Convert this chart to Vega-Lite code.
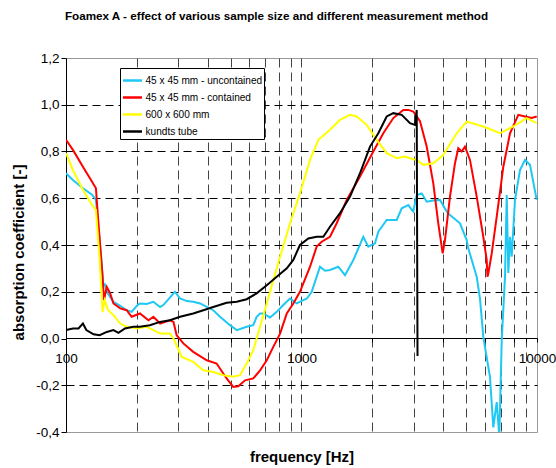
{
  "$schema": "https://vega.github.io/schema/vega-lite/v6.json",
  "width": 471,
  "height": 374,
  "autosize": {"type": "none"},
  "padding": {"left": 66, "top": 58, "right": 19, "bottom": 36},
  "background": "white",
  "title": {"text": "Foamex A - effect of various sample size and different measurement method", "font": "Liberation Sans", "fontSize": 11.7, "fontWeight": "bold", "color": "black", "anchor": "middle", "dx": -25, "offset": 28},
  "config": {"view": {"stroke": "#999999", "strokeWidth": 1}, "font": "Liberation Sans"},
  "data": {"values": [
    {"s":"45 x 45 mm - uncontained","f":100,"a":0.707},{"s":"45 x 45 mm - uncontained","f":107,"a":0.678},{"s":"45 x 45 mm - uncontained","f":118,"a":0.643},{"s":"45 x 45 mm - uncontained","f":129,"a":0.615},{"s":"45 x 45 mm - uncontained","f":134,"a":0.593},{"s":"45 x 45 mm - uncontained","f":141,"a":0.35},{"s":"45 x 45 mm - uncontained","f":144,"a":0.225},{"s":"45 x 45 mm - uncontained","f":146,"a":0.232},{"s":"45 x 45 mm - uncontained","f":151,"a":0.19},{"s":"45 x 45 mm - uncontained","f":159,"a":0.157},{"s":"45 x 45 mm - uncontained","f":170,"a":0.14},{"s":"45 x 45 mm - uncontained","f":181,"a":0.121},{"s":"45 x 45 mm - uncontained","f":190,"a":0.114},{"s":"45 x 45 mm - uncontained","f":200,"a":0.14},{"s":"45 x 45 mm - uncontained","f":206,"a":0.15},{"s":"45 x 45 mm - uncontained","f":220,"a":0.148},{"s":"45 x 45 mm - uncontained","f":235,"a":0.157},{"s":"45 x 45 mm - uncontained","f":251,"a":0.135},{"s":"45 x 45 mm - uncontained","f":259,"a":0.143},{"s":"45 x 45 mm - uncontained","f":276,"a":0.175},{"s":"45 x 45 mm - uncontained","f":290,"a":0.2},{"s":"45 x 45 mm - uncontained","f":305,"a":0.171},{"s":"45 x 45 mm - uncontained","f":326,"a":0.16},{"s":"45 x 45 mm - uncontained","f":347,"a":0.157},{"s":"45 x 45 mm - uncontained","f":371,"a":0.15},{"s":"45 x 45 mm - uncontained","f":396,"a":0.135},{"s":"45 x 45 mm - uncontained","f":422,"a":0.121},{"s":"45 x 45 mm - uncontained","f":451,"a":0.093},{"s":"45 x 45 mm - uncontained","f":497,"a":0.057},{"s":"45 x 45 mm - uncontained","f":531,"a":0.036},{"s":"45 x 45 mm - uncontained","f":585,"a":0.05},{"s":"45 x 45 mm - uncontained","f":624,"a":0.057},{"s":"45 x 45 mm - uncontained","f":645,"a":0.093},{"s":"45 x 45 mm - uncontained","f":667,"a":0.107},{"s":"45 x 45 mm - uncontained","f":689,"a":0.107},{"s":"45 x 45 mm - uncontained","f":735,"a":0.09},{"s":"45 x 45 mm - uncontained","f":785,"a":0.114},{"s":"45 x 45 mm - uncontained","f":837,"a":0.143},{"s":"45 x 45 mm - uncontained","f":894,"a":0.171},{"s":"45 x 45 mm - uncontained","f":954,"a":0.15},{"s":"45 x 45 mm - uncontained","f":1018,"a":0.164},{"s":"45 x 45 mm - uncontained","f":1052,"a":0.17},{"s":"45 x 45 mm - uncontained","f":1105,"a":0.2},{"s":"45 x 45 mm - uncontained","f":1198,"a":0.307},{"s":"45 x 45 mm - uncontained","f":1259,"a":0.29},{"s":"45 x 45 mm - uncontained","f":1321,"a":0.293},{"s":"45 x 45 mm - uncontained","f":1433,"a":0.307},{"s":"45 x 45 mm - uncontained","f":1530,"a":0.271},{"s":"45 x 45 mm - uncontained","f":1660,"a":0.336},{"s":"45 x 45 mm - uncontained","f":1830,"a":0.435},{"s":"45 x 45 mm - uncontained","f":1922,"a":0.393},{"s":"45 x 45 mm - uncontained","f":2052,"a":0.407},{"s":"45 x 45 mm - uncontained","f":2119,"a":0.457},{"s":"45 x 45 mm - uncontained","f":2300,"a":0.507},{"s":"45 x 45 mm - uncontained","f":2537,"a":0.507},{"s":"45 x 45 mm - uncontained","f":2664,"a":0.557},{"s":"45 x 45 mm - uncontained","f":2841,"a":0.571},{"s":"45 x 45 mm - uncontained","f":2937,"a":0.55},{"s":"45 x 45 mm - uncontained","f":2983,"a":0.543},{"s":"45 x 45 mm - uncontained","f":3085,"a":0.614},{"s":"45 x 45 mm - uncontained","f":3239,"a":0.621},{"s":"45 x 45 mm - uncontained","f":3401,"a":0.585},{"s":"45 x 45 mm - uncontained","f":3628,"a":0.59},{"s":"45 x 45 mm - uncontained","f":3873,"a":0.593},{"s":"45 x 45 mm - uncontained","f":4135,"a":0.543},{"s":"45 x 45 mm - uncontained","f":4271,"a":0.528},{"s":"45 x 45 mm - uncontained","f":4710,"a":0.493},{"s":"45 x 45 mm - uncontained","f":5028,"a":0.421},{"s":"45 x 45 mm - uncontained","f":5093,"a":0.39},{"s":"45 x 45 mm - uncontained","f":5546,"a":0.264},{"s":"45 x 45 mm - uncontained","f":5728,"a":0.17},{"s":"45 x 45 mm - uncontained","f":5916,"a":0.007},{"s":"45 x 45 mm - uncontained","f":6316,"a":-0.165},{"s":"45 x 45 mm - uncontained","f":6523,"a":-0.38},{"s":"45 x 45 mm - uncontained","f":6745,"a":-0.272},{"s":"45 x 45 mm - uncontained","f":6918,"a":-0.42},{"s":"45 x 45 mm - uncontained","f":7083,"a":-0.007},{"s":"45 x 45 mm - uncontained","f":7314,"a":0.264},{"s":"45 x 45 mm - uncontained","f":7437,"a":0.614},{"s":"45 x 45 mm - uncontained","f":7554,"a":0.28},{"s":"45 x 45 mm - uncontained","f":7680,"a":0.435},{"s":"45 x 45 mm - uncontained","f":7808,"a":0.35},{"s":"45 x 45 mm - uncontained","f":8064,"a":0.593},{"s":"45 x 45 mm - uncontained","f":8469,"a":0.721},{"s":"45 x 45 mm - uncontained","f":8892,"a":0.764},{"s":"45 x 45 mm - uncontained","f":9339,"a":0.743},{"s":"45 x 45 mm - uncontained","f":9970,"a":0.593},
    {"s":"45 x 45 mm - contained","f":100,"a":0.85},{"s":"45 x 45 mm - contained","f":107,"a":0.807},{"s":"45 x 45 mm - contained","f":118,"a":0.735},{"s":"45 x 45 mm - contained","f":129,"a":0.671},{"s":"45 x 45 mm - contained","f":134,"a":0.643},{"s":"45 x 45 mm - contained","f":137,"a":0.507},{"s":"45 x 45 mm - contained","f":143,"a":0.264},{"s":"45 x 45 mm - contained","f":145,"a":0.164},{"s":"45 x 45 mm - contained","f":149,"a":0.221},{"s":"45 x 45 mm - contained","f":154,"a":0.193},{"s":"45 x 45 mm - contained","f":159,"a":0.15},{"s":"45 x 45 mm - contained","f":170,"a":0.129},{"s":"45 x 45 mm - contained","f":181,"a":0.121},{"s":"45 x 45 mm - contained","f":190,"a":0.093},{"s":"45 x 45 mm - contained","f":206,"a":0.107},{"s":"45 x 45 mm - contained","f":224,"a":0.078},{"s":"45 x 45 mm - contained","f":235,"a":0.093},{"s":"45 x 45 mm - contained","f":251,"a":0.064},{"s":"45 x 45 mm - contained","f":276,"a":0.078},{"s":"45 x 45 mm - contained","f":286,"a":0.071},{"s":"45 x 45 mm - contained","f":295,"a":0.014},{"s":"45 x 45 mm - contained","f":315,"a":-0.021},{"s":"45 x 45 mm - contained","f":347,"a":-0.057},{"s":"45 x 45 mm - contained","f":396,"a":-0.093},{"s":"45 x 45 mm - contained","f":436,"a":-0.107},{"s":"45 x 45 mm - contained","f":481,"a":-0.171},{"s":"45 x 45 mm - contained","f":513,"a":-0.207},{"s":"45 x 45 mm - contained","f":539,"a":-0.204},{"s":"45 x 45 mm - contained","f":576,"a":-0.179},{"s":"45 x 45 mm - contained","f":624,"a":-0.171},{"s":"45 x 45 mm - contained","f":667,"a":-0.136},{"s":"45 x 45 mm - contained","f":712,"a":-0.093},{"s":"45 x 45 mm - contained","f":759,"a":-0.036},{"s":"45 x 45 mm - contained","f":811,"a":0.021},{"s":"45 x 45 mm - contained","f":866,"a":0.107},{"s":"45 x 45 mm - contained","f":923,"a":0.15},{"s":"45 x 45 mm - contained","f":985,"a":0.2},{"s":"45 x 45 mm - contained","f":1087,"a":0.307},{"s":"45 x 45 mm - contained","f":1160,"a":0.393},{"s":"45 x 45 mm - contained","f":1218,"a":0.414},{"s":"45 x 45 mm - contained","f":1321,"a":0.435},{"s":"45 x 45 mm - contained","f":1411,"a":0.493},{"s":"45 x 45 mm - contained","f":1556,"a":0.593},{"s":"45 x 45 mm - contained","f":1772,"a":0.693},{"s":"45 x 45 mm - contained","f":2018,"a":0.8},{"s":"45 x 45 mm - contained","f":2225,"a":0.878},{"s":"45 x 45 mm - contained","f":2454,"a":0.943},{"s":"45 x 45 mm - contained","f":2706,"a":0.978},{"s":"45 x 45 mm - contained","f":2841,"a":0.978},{"s":"45 x 45 mm - contained","f":2983,"a":0.971},{"s":"45 x 45 mm - contained","f":3185,"a":0.93},{"s":"45 x 45 mm - contained","f":3401,"a":0.821},{"s":"45 x 45 mm - contained","f":3628,"a":0.664},{"s":"45 x 45 mm - contained","f":3809,"a":0.493},{"s":"45 x 45 mm - contained","f":3977,"a":0.364},{"s":"45 x 45 mm - contained","f":4067,"a":0.421},{"s":"45 x 45 mm - contained","f":4271,"a":0.607},{"s":"45 x 45 mm - contained","f":4485,"a":0.75},{"s":"45 x 45 mm - contained","f":4632,"a":0.814},{"s":"45 x 45 mm - contained","f":4789,"a":0.8},{"s":"45 x 45 mm - contained","f":4945,"a":0.821},{"s":"45 x 45 mm - contained","f":5193,"a":0.764},{"s":"45 x 45 mm - contained","f":5546,"a":0.607},{"s":"45 x 45 mm - contained","f":5916,"a":0.435},{"s":"45 x 45 mm - contained","f":6116,"a":0.336},{"s":"45 x 45 mm - contained","f":6160,"a":0.264},{"s":"45 x 45 mm - contained","f":6212,"a":0.278},{"s":"45 x 45 mm - contained","f":6423,"a":0.364},{"s":"45 x 45 mm - contained","f":6745,"a":0.521},{"s":"45 x 45 mm - contained","f":7194,"a":0.735},{"s":"45 x 45 mm - contained","f":7680,"a":0.878},{"s":"45 x 45 mm - contained","f":8329,"a":0.957},{"s":"45 x 45 mm - contained","f":8892,"a":0.95},{"s":"45 x 45 mm - contained","f":9496,"a":0.943},{"s":"45 x 45 mm - contained","f":9970,"a":0.95},
    {"s":"600 x 600 mm","f":100,"a":0.793},{"s":"600 x 600 mm","f":107,"a":0.721},{"s":"600 x 600 mm","f":118,"a":0.636},{"s":"600 x 600 mm","f":129,"a":0.571},{"s":"600 x 600 mm","f":134,"a":0.55},{"s":"600 x 600 mm","f":139,"a":0.336},{"s":"600 x 600 mm","f":143,"a":0.114},{"s":"600 x 600 mm","f":146,"a":0.164},{"s":"600 x 600 mm","f":151,"a":0.121},{"s":"600 x 600 mm","f":159,"a":0.1},{"s":"600 x 600 mm","f":170,"a":0.064},{"s":"600 x 600 mm","f":181,"a":0.05},{"s":"600 x 600 mm","f":200,"a":0.043},{"s":"600 x 600 mm","f":220,"a":0.05},{"s":"600 x 600 mm","f":235,"a":0.036},{"s":"600 x 600 mm","f":251,"a":0.021},{"s":"600 x 600 mm","f":276,"a":0.021},{"s":"600 x 600 mm","f":286,"a":0.0},{"s":"600 x 600 mm","f":295,"a":-0.03},{"s":"600 x 600 mm","f":310,"a":-0.079},{"s":"600 x 600 mm","f":347,"a":-0.1},{"s":"600 x 600 mm","f":383,"a":-0.136},{"s":"600 x 600 mm","f":422,"a":-0.143},{"s":"600 x 600 mm","f":466,"a":-0.157},{"s":"600 x 600 mm","f":513,"a":-0.164},{"s":"600 x 600 mm","f":548,"a":-0.157},{"s":"600 x 600 mm","f":585,"a":-0.107},{"s":"600 x 600 mm","f":624,"a":-0.05},{"s":"600 x 600 mm","f":667,"a":0.05},{"s":"600 x 600 mm","f":712,"a":0.15},{"s":"600 x 600 mm","f":759,"a":0.25},{"s":"600 x 600 mm","f":811,"a":0.35},{"s":"600 x 600 mm","f":894,"a":0.493},{"s":"600 x 600 mm","f":985,"a":0.621},{"s":"600 x 600 mm","f":1087,"a":0.764},{"s":"600 x 600 mm","f":1179,"a":0.85},{"s":"600 x 600 mm","f":1321,"a":0.893},{"s":"600 x 600 mm","f":1457,"a":0.935},{"s":"600 x 600 mm","f":1607,"a":0.957},{"s":"600 x 600 mm","f":1716,"a":0.95},{"s":"600 x 600 mm","f":1892,"a":0.914},{"s":"600 x 600 mm","f":2086,"a":0.85},{"s":"600 x 600 mm","f":2300,"a":0.793},{"s":"600 x 600 mm","f":2537,"a":0.771},{"s":"600 x 600 mm","f":2751,"a":0.778},{"s":"600 x 600 mm","f":2889,"a":0.771},{"s":"600 x 600 mm","f":3085,"a":0.764},{"s":"600 x 600 mm","f":3290,"a":0.743},{"s":"600 x 600 mm","f":3628,"a":0.75},{"s":"600 x 600 mm","f":4000,"a":0.785},{"s":"600 x 600 mm","f":4560,"a":0.878},{"s":"600 x 600 mm","f":5028,"a":0.928},{"s":"600 x 600 mm","f":5916,"a":0.907},{"s":"600 x 600 mm","f":6966,"a":0.878},{"s":"600 x 600 mm","f":7932,"a":0.907},{"s":"600 x 600 mm","f":9044,"a":0.943},{"s":"600 x 600 mm","f":9970,"a":0.921},
    {"s":"kundts tube","f":100,"a":0.036},{"s":"kundts tube","f":107,"a":0.043},{"s":"kundts tube","f":113,"a":0.043},{"s":"kundts tube","f":118,"a":0.064},{"s":"kundts tube","f":122,"a":0.036},{"s":"kundts tube","f":131,"a":0.018},{"s":"kundts tube","f":139,"a":0.014},{"s":"kundts tube","f":149,"a":0.028},{"s":"kundts tube","f":159,"a":0.036},{"s":"kundts tube","f":167,"a":0.024},{"s":"kundts tube","f":178,"a":0.043},{"s":"kundts tube","f":193,"a":0.05},{"s":"kundts tube","f":206,"a":0.05},{"s":"kundts tube","f":227,"a":0.057},{"s":"kundts tube","f":251,"a":0.071},{"s":"kundts tube","f":276,"a":0.078},{"s":"kundts tube","f":305,"a":0.093},{"s":"kundts tube","f":347,"a":0.107},{"s":"kundts tube","f":383,"a":0.121},{"s":"kundts tube","f":422,"a":0.135},{"s":"kundts tube","f":481,"a":0.153},{"s":"kundts tube","f":531,"a":0.157},{"s":"kundts tube","f":585,"a":0.168},{"s":"kundts tube","f":645,"a":0.193},{"s":"kundts tube","f":712,"a":0.228},{"s":"kundts tube","f":785,"a":0.264},{"s":"kundts tube","f":866,"a":0.3},{"s":"kundts tube","f":923,"a":0.336},{"s":"kundts tube","f":985,"a":0.4},{"s":"kundts tube","f":1069,"a":0.428},{"s":"kundts tube","f":1160,"a":0.435},{"s":"kundts tube","f":1238,"a":0.435},{"s":"kundts tube","f":1321,"a":0.478},{"s":"kundts tube","f":1457,"a":0.536},{"s":"kundts tube","f":1607,"a":0.607},{"s":"kundts tube","f":1772,"a":0.707},{"s":"kundts tube","f":1954,"a":0.821},{"s":"kundts tube","f":2119,"a":0.878},{"s":"kundts tube","f":2300,"a":0.95},{"s":"kundts tube","f":2454,"a":0.964},{"s":"kundts tube","f":2664,"a":0.957},{"s":"kundts tube","f":2889,"a":0.921},{"s":"kundts tube","f":3034,"a":0.914},{"s":"kundts tube","f":3085,"a":0.978},{"s":"kundts tube","f":3109,"a":-0.075}
  ]},
  "mark": {"type": "line", "strokeWidth": 2, "clip": true},
  "encoding": {
    "x": {"field": "f", "type": "quantitative", "scale": {"type": "log", "domain": [100, 10000]},
      "axis": {"values": [100,200,300,400,500,600,700,800,900,1000,2000,3000,4000,5000,6000,7000,8000,9000,10000], "format": "d", "labelExpr": "datum.value == 100 || datum.value == 1000 || datum.value == 10000 ? datum.label : ''", "labelOverlap": false, "labelFlush": false, "offset": -94, "title": "frequency [Hz]", "titleY": 118, "titleBaseline": "middle", "titleFontSize": 15, "titleFontWeight": "bold", "titleColor": "black", "titleFont": "Liberation Sans", "labelFont": "Liberation Sans", "labelFontSize": 13.5, "labelColor": "black", "labelPadding": 9, "tickSize": 4, "tickColor": "black", "domainColor": "black", "domainWidth": 1, "grid": true, "gridColor": "#444444", "gridDash": [9, 5], "gridOpacity": {"condition": {"test": "datum.value <= 100 || datum.value >= 10000", "value": 0}, "value": 1}}},
    "y": {"field": "a", "type": "quantitative", "scale": {"domain": [-0.4, 1.2], "nice": false, "zero": false},
      "axis": {"values": [-0.4,-0.2,0,0.2,0.4,0.6,0.8,1.0,1.2], "labelExpr": "replace(replace(format(datum.value, '.1f'), '.', ','), '\u2212', '-')", "title": "absorption coefficient [-]", "titleX": -48, "titleY": 194, "titleAlign": "center", "titleBaseline": "middle", "titleAngle": -90, "titleFontSize": 15, "titleFontWeight": "bold", "titleColor": "black", "titleFont": "Liberation Sans", "labelFont": "Liberation Sans", "labelFontSize": 13.5, "labelColor": "black", "labelPadding": 2, "tickSize": 5, "tickColor": "black", "domainColor": "black", "grid": true, "gridColor": "#000000", "gridDash": [8, 5], "gridOpacity": {"condition": {"test": "abs(datum.value) < 0.001 || datum.value > 1.19 || datum.value < -0.39", "value": 0}, "value": 1}}},
    "color": {"field": "s", "type": "nominal", "scale": {"domain": ["45 x 45 mm - uncontained", "45 x 45 mm - contained", "600 x 600 mm", "kundts tube"], "range": ["#1EC8F5", "#FF0000", "#FFFF00", "#000000"]},
      "legend": {"title": null, "orient": "none", "legendX": 54, "legendY": 10, "fillColor": "white", "strokeColor": "black", "padding": 1.5, "cornerRadius": 0, "symbolType": "stroke", "symbolSize": 361, "symbolStrokeWidth": 2.5, "labelFont": "Liberation Sans", "labelFontSize": 10.1, "labelColor": "black", "labelOffset": 2, "rowPadding": -2.7}}
  }
}
